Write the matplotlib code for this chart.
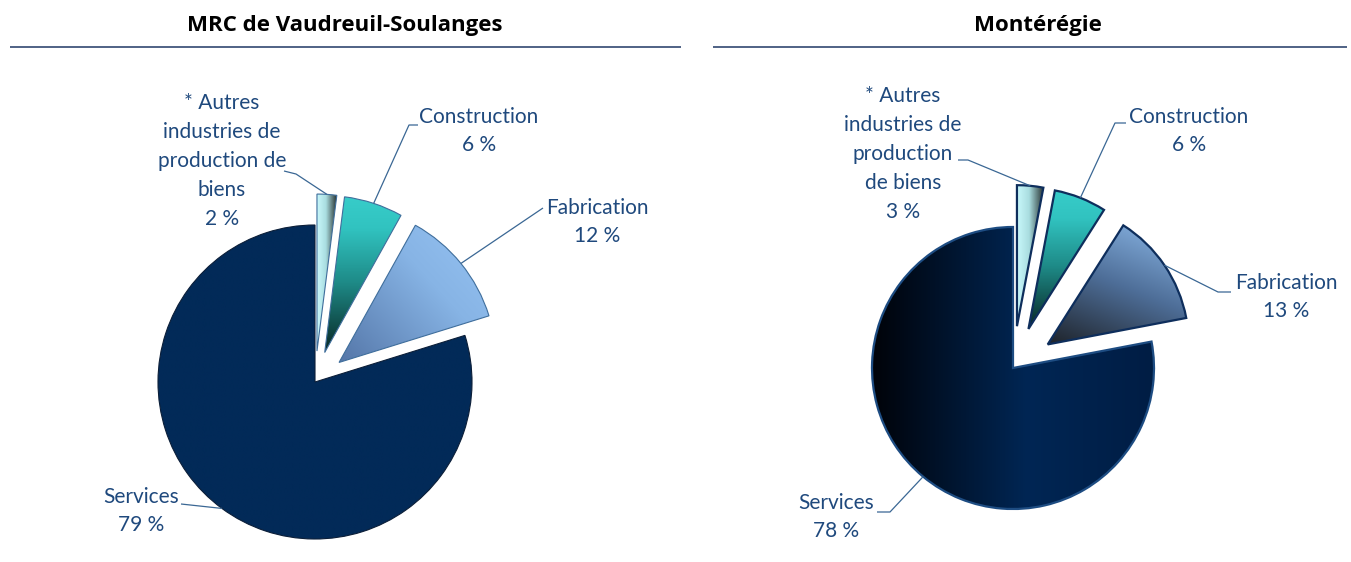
import numpy as np
import matplotlib
matplotlib.use("Agg")
import matplotlib.pyplot as plt
from matplotlib.colors import LinearSegmentedColormap

plt.rcParams['font.family'] = ['Lato', 'DejaVu Sans']

# data
sectors_vs = ['* Autres\nindustries de\nproduction de\nbiens', 'Construction', 'Fabrication', 'Services']
sectors_mt = ['* Autres\nindustries de\nproduction\nde biens', 'Construction', 'Fabrication', 'Services']
pct_vs = [2, 6, 12, 79]
pct_mt = [3, 6, 13, 78]
titles = ['MRC de Vaudreuil-Soulanges', 'Montérégie']

W, H = 1351, 562
TXT = '#1F497D'
LEAD = '#3A6794'

def fy(y):
    # image (top-down) pixel rows -> axes y
    return H - y

# layout (pixel positions in the picture, top-down)
charts = [
    dict(sectors=sectors_vs, pct=pct_vs, title=titles[0], title_x=345, rule=(10, 681),
         center=(315, 382), radius=157, explode=[31, 31, 31, 0],
         edge=['#3F6E9C', '#3F6E9C', '#3F6E9C', '#0B1E38'], lw=[0.8, 0.8, 0.8, 0.8],
         text=[(222, 161), (479, 131), (597, 222), (141, 511)],
         leader=[[(296, 174), (284, 171)], [(409, 125), (418, 125)], [(543, 208)], [(181, 504)]],
         fills=[([(0, '#C9F8FB'), (0.45, '#A9DDE0'), (1, '#26302F')], 0),
                ([(0, '#082624'), (0.45, '#1E8A87'), (0.8, '#31C3C0'), (1, '#37CCC9')], 90),
                ([(0, '#5476A8'), (0.6, '#87B4E5'), (1, '#96C3F3')], 40),
                ([(0, '#022A58'), (1, '#022A58')], 0)]),
    dict(sectors=sectors_mt, pct=pct_mt, title=titles[1], title_x=1038, rule=(713, 1347),
         center=(1013, 368), radius=141, explode=[42, 42, 42, 0],
         edge=['#0E2E5C', '#0E2E5C', '#0E2E5C', '#1D4C82'], lw=[1.6, 1.6, 1.6, 1.6],
         text=[(903, 154), (1189, 131), (1286, 297), (836, 517)],
         leader=[[(968, 160), (958, 160)], [(1115, 123), (1126, 123)], [(1218, 292), (1231, 292)],
                 [(890, 512), (877, 512)]],
         fills=[([(0, '#C9F8FB'), (0.45, '#A9DDE0'), (1, '#26302F')], 0),
                ([(0, '#082624'), (0.45, '#1E8A87'), (0.8, '#31C3C0'), (1, '#37CCC9')], 90),
                ([(0, '#1E232A'), (0.5, '#4E6E98'), (1, '#8FBCEC')], 65),
                ([(0, '#000309'), (0.55, '#002654'), (1, '#001D44')], 0)]),
]


def gradient_fill(ax, wedge, stops, angle):
    (x0, y0), (x1, y1) = wedge.get_path().get_extents(wedge.get_patch_transform()).get_points()
    u, v = np.meshgrid(np.linspace(0, 1, 300), np.linspace(0, 1, 300))
    a = np.deg2rad(angle)
    t = u * np.cos(a) + v * np.sin(a)
    t = (t - t.min()) / (t.max() - t.min())
    cmap = LinearSegmentedColormap.from_list('g', stops)
    im = ax.imshow(t, cmap=cmap, vmin=0, vmax=1, extent=(x0, x1, y0, y1), origin='lower',
                   interpolation='bilinear', zorder=1)
    im.set_clip_path(wedge)
    wedge.set_facecolor('none')
    wedge.set_zorder(2)


fig = plt.figure(figsize=(W / 100, H / 100), dpi=100)
ax = fig.add_axes([0, 0, 1, 1])

for c in charts:
    cx, cy = c['center']
    wedges, _ = ax.pie(c['pct'], center=(cx, fy(cy)), radius=c['radius'], explode=c['explode'],
                       startangle=90, counterclock=False)
    for i, w in enumerate(wedges):
        w.set_edgecolor(c['edge'][i])
        w.set_linewidth(c['lw'][i])
        stops, ang = c['fills'][i]
        gradient_fill(ax, w, stops, ang)

        # leader from the arc mid-point to the label
        tm = np.deg2rad((w.theta1 + w.theta2) / 2)
        ax_, ay_ = w.center
        anchor = (ax_ + w.r * np.cos(tm), ay_ + w.r * np.sin(tm))
        pts = [anchor] + [(px, fy(py)) for px, py in c['leader'][i]]
        xs, ys = zip(*pts)
        ax.plot(xs, ys, color=LEAD, lw=0.9, zorder=3, solid_capstyle='butt')

        tx, ty = c['text'][i]
        ax.text(tx, fy(ty), f"{c['sectors'][i]}\n{c['pct'][i]} %", ha='center', va='center',
                ma='center', fontsize=15, color=TXT, linespacing=1.55, zorder=4)

    ax.text(c['title_x'], fy(25), c['title'], ha='center', va='center', fontsize=16,
            fontweight='bold', color='black', family=['Open Sans', 'DejaVu Sans'])
    ax.plot(c['rule'], [fy(47), fy(47)], color='#1F3864', lw=1.1, solid_capstyle='butt')

ax.set_xlim(0, W)
ax.set_ylim(0, H)
ax.set_aspect('auto')
ax.axis('off')

fig.savefig('out.png', dpi=100)
